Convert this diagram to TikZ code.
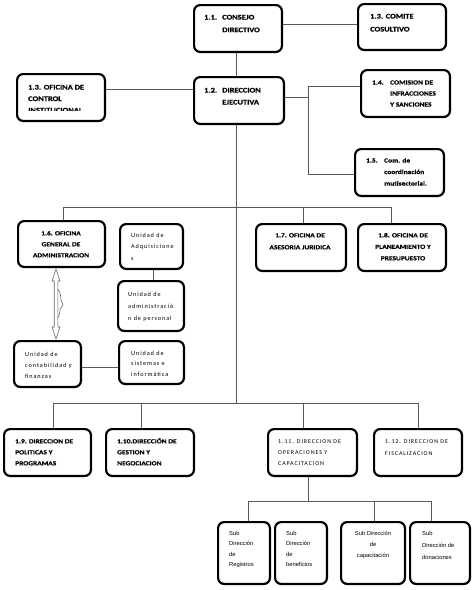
\documentclass[tikz,border=0pt]{standalone}
\usepackage{fontspec}
\setmainfont{Carlito}
\newfontfamily\boldf{Carlito}[FakeStretch=1.2,FakeBold=0.5]
\newfontfamily\spacedf{Carlito}[LetterSpace=15]
\newfontfamily\arialf{Liberation Sans}
\newcommand\BF[2]{\fontsize{#1}{#2}\selectfont\boldf\bfseries}
\newcommand\RF[2]{\fontsize{#1}{#2}\selectfont\spacedf}
\newcommand\AF[2]{\fontsize{#1}{#2}\selectfont\arialf}
\newcommand\NUM[1]{\makebox[18pt][l]{#1}}
\begin{document}
\begin{tikzpicture}[x=1pt,y=-1pt,
  obox/.style={draw, line width=2.2pt, rounded corners=6pt, inner sep=0pt,
    append after command={[draw, line width=0.7pt, rounded corners=3.5pt]
      ([shift={(4.2pt,-4.2pt)}]\tikzlastnode.north west) rectangle
      ([shift={(-4.2pt,4.2pt)}]\tikzlastnode.south east)}},
  conn/.style={draw=black!65, line width=0.75pt},
  txtl/.style={anchor=base west, inner sep=0pt},
  txtc/.style={anchor=base, inner sep=0pt}]
\useasboundingbox (0,0) rectangle (474,590);
\fill[white] (0,0) rectangle (474,590);

% boxes (outer edges measured; size = outer - line width)
\node[obox, minimum width=87.8pt, minimum height=46.8pt] (n11) at (238,28.5) {};
\node[obox, minimum width=87.8pt, minimum height=45.8pt] (n13c) at (402,27) {};
\node[obox, minimum width=87.8pt, minimum height=46.8pt] (n13o) at (61,97.5) {};
\node[obox, minimum width=89.8pt, minimum height=46.8pt] (n12) at (239,100.5) {};
\node[obox, minimum width=88.8pt, minimum height=46.8pt] (n14) at (405.5,93.5) {};
\node[obox, minimum width=88.8pt, minimum height=46.8pt] (n15) at (399.5,172.5) {};
\node[obox, minimum width=86.8pt, minimum height=45.8pt] (n16) at (61.5,244) {};
\node[obox, minimum width=62.8pt, minimum height=44.8pt] (uadq) at (151.5,246.5) {};
\node[obox, minimum width=65.8pt, minimum height=49.8pt] (uadm) at (151,306) {};
\node[obox, minimum width=66.8pt, minimum height=45.8pt] (ucon) at (47.5,364) {};
\node[obox, minimum width=64.8pt, minimum height=42.8pt] (usis) at (151.5,362.5) {};
\node[obox, minimum width=89.8pt, minimum height=46.8pt] (n17) at (301,247.5) {};
\node[obox, minimum width=87.8pt, minimum height=46.8pt] (n18) at (402,247.5) {};
\node[obox, minimum width=86.8pt, minimum height=46.8pt] (n19) at (47.5,452.5) {};
\node[obox, minimum width=87.8pt, minimum height=46.8pt] (n110) at (150,452.5) {};
\node[obox, minimum width=88.8pt, minimum height=46.8pt] (n111) at (312.5,452.5) {};
\node[obox, minimum width=87.8pt, minimum height=46.8pt] (n112) at (418,452.5) {};
\node[obox, minimum width=51.8pt, minimum height=61.8pt] (s1) at (244,553) {};
\node[obox, minimum width=51.8pt, minimum height=61.8pt] (s2) at (301,553) {};
\node[obox, minimum width=63.8pt, minimum height=61.8pt] (s3) at (373,553) {};
\node[obox, minimum width=59.8pt, minimum height=61.8pt] (s4) at (440,553) {};

% connectors
\draw[conn] ([yshift=3pt]n13c.west) -- ([yshift=3pt]n13c.west -| n11.east);
\draw[conn] ([xshift=-2pt]n11.south) -- ([xshift=-2pt]n11.south |- n12.north);
\draw[conn] ([yshift=8.5pt]n13o.east) -- ([yshift=8.5pt]n13o.east -| n12.west);
\coordinate (j1) at (308,97);
\coordinate (b14) at (308,86);
\coordinate (b15) at (308,174);
\draw[conn] (n12.east |- j1) -- (j1);
\draw[conn] (b14) -- (b15);
\draw[conn] (b14) -- (b14 -| n14.west);
\draw[conn] (b15) -- (b15 -| n15.west);
\coordinate (t1) at (236,207);
\coordinate (t2) at (236,403);
\draw[conn] (t1 |- n12.south) -- (t2);
\coordinate (h16) at (63,207);
\coordinate (h17) at (303,207);
\coordinate (h18) at (391,207);
\draw[conn] (h16 |- n16.north) -- (h16) -- (h18) -- (h18 |- n18.north);
\draw[conn] (h17) -- (h17 |- n17.north);
\draw[conn] ([xshift=1.5pt]uadq.south) -- ([xshift=1.5pt]uadq.south |- uadm.north);
\draw[conn] ([yshift=-3pt]ucon.east) -- ([yshift=-3pt]ucon.east -| usis.west);
\coordinate (h19) at (53,403);
\coordinate (h110) at (141,403);
\coordinate (h111) at (303,403);
\coordinate (h112) at (418,403);
\draw[conn] (h19 |- n19.north) -- (h19) -- (h112) -- (h112 |- n112.north);
\draw[conn] (h110) -- (h110 |- n110.north);
\draw[conn] (h111) -- (h111 |- n111.north);
\coordinate (k0) at (308,501);
\coordinate (k1) at (248,501);
\coordinate (k3) at (374,501);
\coordinate (k4) at (431,501);
\draw[conn] (k0 |- n111.south) -- (k0);
\draw[conn] (k1 |- s1.north) -- (k1) -- (k4) -- (k4 |- s4.north);
\draw[conn] (k3) -- (k3 |- s3.north);

% double arrow between 1.6 and contabilidad
\draw[black!60, line width=0.6pt, line join=miter]
  (56,269) -- (60,281) -- (57.8,281) -- (57.8,327) -- (60,327) -- (56,339)
  -- (52,327) -- (54.2,327) -- (54.2,281) -- (52,281) -- cycle;
\draw[black!60, line width=0.6pt]
  (57.8,289) .. controls (60,292) and (61,296) .. (61,300) -- (63,305) -- (60,309)
  .. controls (60,313) and (59,316) .. (57.8,318);

% texts
\node[txtl, font=\BF{7}{12.7}] (t11) at (204,19.5)
  {\begin{tabular}[t]{@{}l@{}}\NUM{1.1.}CONSEJO\\\hspace*{18pt}DIRECTIVO\end{tabular}};
\node[txtl, font=\BF{7}{13}] (t13c) at (370,18.5)
  {\begin{tabular}[t]{@{}l@{}}1.3. COMITE\\COSULTIVO\end{tabular}};
\begin{scope}
\clip (0,0) rectangle (474,110.5);
\node[txtl, font=\BF{7}{11.5}] (t13o) at (28,89.5)
  {\begin{tabular}[t]{@{}l@{}}1.3. OFICINA DE\\CONTROL\\INSTITUCIONAL\end{tabular}};
\end{scope}
\node[txtl, font=\BF{7}{12}] (t12) at (204,92.5)
  {\begin{tabular}[t]{@{}l@{}}\NUM{1.2.}DIRECCION\\\hspace*{18pt}EJECUTIVA\end{tabular}};
\node[txtl, font=\BF{6.2}{11}] (t14) at (372,84.5)
  {\begin{tabular}[t]{@{}l@{}}\NUM{1.4.}COMISION DE\\\hspace*{18pt}INFRACCIONES\\\hspace*{18pt}Y SANCIONES\end{tabular}};
\node[txtl, font=\BF{6.2}{11.5}] (t15) at (366,162.5)
  {\begin{tabular}[t]{@{}l@{}}\NUM{1.5.}Com. de\\\hspace*{18pt}coordinación\\\hspace*{18pt}mutisectorial.\end{tabular}};
\node[txtc, font=\BF{6.2}{11}] (t16) at (61,235.3)
  {\begin{tabular}[t]{@{}c@{}}1.6. OFICINA\\GENERAL DE\\ADMINISTRACION\end{tabular}};
\node[txtl, font=\RF{6.2}{11.5}] (tadq) at (131,237.3)
  {\begin{tabular}[t]{@{}l@{}}Unidad de\\Adquisicione\\s\end{tabular}};
\node[txtl, font=\RF{6.2}{12}] (tadm) at (128,296.3)
  {\begin{tabular}[t]{@{}l@{}}Unidad de\\administració\\n de personal\end{tabular}};
\node[txtl, font=\RF{6.2}{11}] (tcon) at (25,356.3)
  {\begin{tabular}[t]{@{}l@{}}Unidad de\\contabilidad y\\finanzas\end{tabular}};
\node[txtl, font=\RF{6.2}{10.5}] (tsis) at (131,355.3)
  {\begin{tabular}[t]{@{}l@{}}Unidad de\\sistemas e\\informática\end{tabular}};
\node[txtc, font=\BF{6.2}{12}] (t17) at (300,237.3)
  {\begin{tabular}[t]{@{}c@{}}1.7. OFICINA DE\\ASESORIA JURIDICA\end{tabular}};
\node[txtc, font=\BF{6.2}{11.5}] (t18) at (403,237.3)
  {\begin{tabular}[t]{@{}c@{}}1.8. OFICINA DE\\PLANEAMIENTO Y\\PRESUPUESTO\end{tabular}};
\node[txtl, font=\BF{6.2}{11}] (t19) at (15,443.3)
  {\begin{tabular}[t]{@{}l@{}}1.9. DIRECCION DE\\POLITICAS Y\\PROGRAMAS\end{tabular}};
\node[txtl, font=\BF{6.2}{11}] (t110) at (117,443.3)
  {\begin{tabular}[t]{@{}l@{}}1.10.DIRECCIÓN DE\\GESTION Y\\NEGOCIACION\end{tabular}};
\node[txtl, font=\RF{6}{11}] (t111) at (278,443.3)
  {\begin{tabular}[t]{@{}l@{}}1.11. DIRECCION DE\\OPERACIONES Y\\CAPACITACION\end{tabular}};
\node[txtl, font=\RF{6}{12}] (t112) at (385,443.3)
  {\begin{tabular}[t]{@{}l@{}}1.12. DIRECCION DE\\FISCALIZACION\end{tabular}};
\node[txtl, font=\AF{5.8}{10.5}] (ts1) at (229,535.3)
  {\begin{tabular}[t]{@{}l@{}}Sub\\Dirección\\de\\Registros\end{tabular}};
\node[txtl, font=\AF{5.8}{10.5}] (ts2) at (286,535.3)
  {\begin{tabular}[t]{@{}l@{}}Sub\\Dirección\\de\\beneficios\end{tabular}};
\node[txtc, font=\AF{5.8}{11}] (ts3) at (373,535.3)
  {\begin{tabular}[t]{@{}c@{}}Sub Dirección\\de\\capacitación\end{tabular}};
\node[txtl, font=\AF{5.8}{12}] (ts4) at (422,535.3)
  {\begin{tabular}[t]{@{}l@{}}Sub\\Dirección de\\donaciones\end{tabular}};
\end{tikzpicture}
\end{document}
